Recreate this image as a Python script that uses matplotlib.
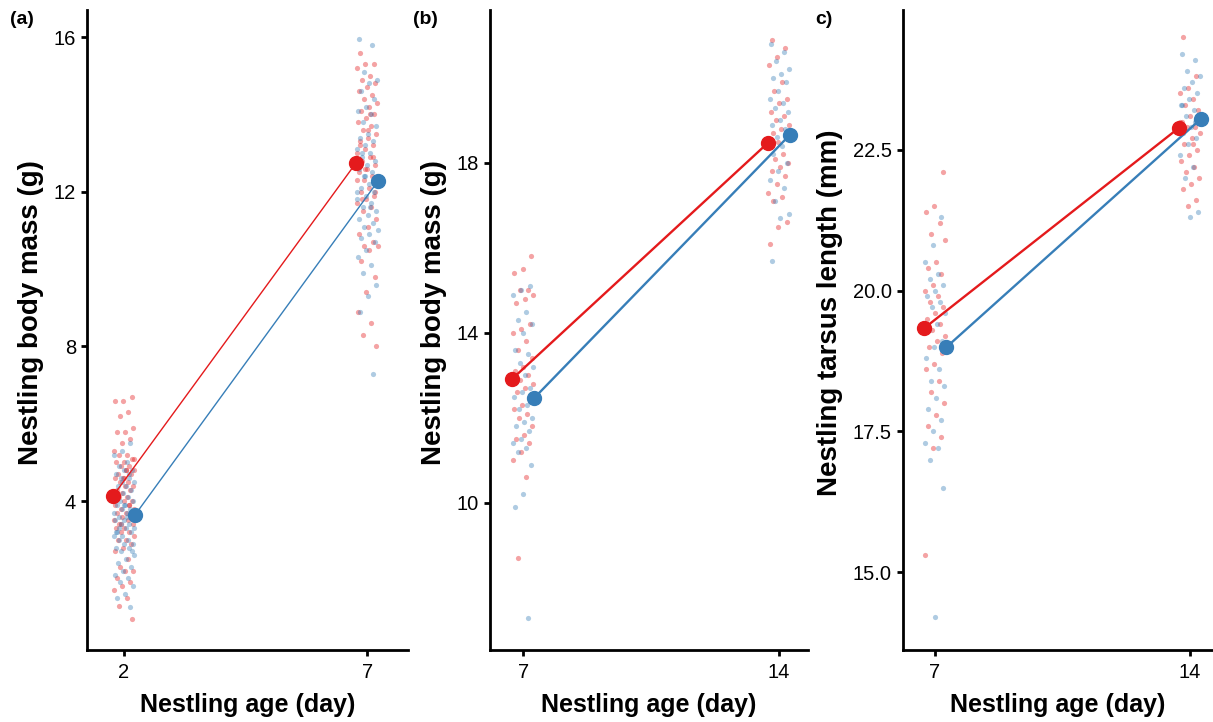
import numpy as np
import matplotlib
matplotlib.use("Agg")
import matplotlib.pyplot as plt

plt.rcParams['font.family'] = ['Liberation Sans', 'DejaVu Sans']

RED = '#E41A1C'
BLUE = '#377EB8'

# ---------------- data ----------------
# panel (a): body mass, ages 2 and 7
a_ages = [2, 7]
a_red_mean = [4.13, 12.75]
a_blue_mean = [3.64, 12.28]
a_red_d2 = [6.7, 6.6, 6.6, 6.3, 6.2, 5.9, 5.8, 5.8, 5.6, 5.5, 5.3, 5.2, 5.2, 5.1, 5.0, 5.0,
            4.9, 4.9, 4.8, 4.8, 4.7, 4.7, 4.6, 4.6, 4.5, 4.5, 4.4, 4.4, 4.3, 4.3, 4.2, 4.2,
            4.1, 4.1, 4.0, 4.0, 3.9, 3.9, 3.8, 3.8, 3.7, 3.7, 3.6, 3.6, 3.5, 3.5, 3.4, 3.4,
            3.3, 3.3, 3.2, 3.2, 3.1, 3.0, 3.0, 2.9, 2.8, 2.7, 2.5, 2.3, 2.2, 2.2, 2.0, 1.9,
            1.8, 1.7, 1.5, 1.3, 0.95, 4.6, 4.2, 3.9, 3.4, 5.1, 4.8]
a_blue_d2 = [5.5, 5.3, 5.2, 5.0, 4.9, 4.8, 4.8, 4.7, 4.6, 4.6, 4.5, 4.4, 4.4, 4.3, 4.2, 4.2,
             4.1, 4.0, 4.0, 3.9, 3.9, 3.8, 3.8, 3.7, 3.7, 3.6, 3.6, 3.5, 3.5, 3.4, 3.4, 3.3,
             3.3, 3.2, 3.2, 3.1, 3.1, 3.0, 3.0, 2.9, 2.9, 2.8, 2.8, 2.7, 2.6, 2.5, 2.4, 2.3,
             2.2, 2.1, 2.0, 1.9, 1.8, 1.6, 1.5, 1.26, 4.5, 4.1, 3.6, 3.3, 2.7, 3.9, 3.2, 4.7]
a_red_d7 = [15.6, 15.3, 15.3, 15.2, 15.0, 14.9, 14.8, 14.7, 14.6, 14.5, 14.4, 14.3, 14.2,
            14.1, 14.0, 13.9, 13.8, 13.7, 13.6, 13.5, 13.4, 13.3, 13.2, 13.1, 13.0, 12.9,
            12.8, 12.7, 12.6, 12.5, 12.4, 12.3, 12.2, 12.1, 12.0, 11.9, 11.8, 11.7, 11.6,
            11.5, 11.3, 11.1, 10.9, 10.7, 10.6, 10.6, 10.5, 10.2, 9.8, 9.4, 8.9, 8.6, 8.3,
            8.0, 13.6, 13.2, 12.9, 12.6, 12.3, 14.0, 11.8, 12.0]
a_blue_d7 = [15.95, 15.8, 15.1, 14.9, 14.8, 14.6, 14.4, 14.2, 14.1, 14.0, 13.8, 13.7, 13.5,
             13.4, 13.3, 13.2, 13.1, 13.0, 12.9, 12.8, 12.7, 12.6, 12.5, 12.4, 12.3, 12.2,
             12.1, 12.0, 11.9, 11.8, 11.7, 11.6, 11.5, 11.4, 11.3, 11.2, 11.1, 11.0, 10.9,
             10.8, 10.7, 10.5, 10.3, 10.1, 9.9, 9.6, 9.3, 8.9, 7.3, 12.4, 12.0, 11.6, 13.0]

# panel (b): body mass, ages 7 and 14
b_ages = [7, 14]
b_red_mean = [12.92, 18.47]
b_blue_mean = [12.47, 18.66]
b_red_d7 = [15.8, 15.5, 15.4, 15.0, 15.0, 14.9, 14.8, 14.7, 14.2, 14.1, 14.0, 13.8, 13.6,
            13.4, 13.2, 13.1, 13.0, 12.9, 12.8, 12.7, 12.6, 12.4, 12.3, 12.2, 12.1, 12.0,
            11.8, 11.6, 11.5, 11.4, 11.2, 11.0, 10.6, 8.7]
b_blue_d7 = [15.1, 15.0, 14.9, 14.5, 14.3, 14.2, 14.0, 13.6, 13.5, 13.3, 13.2, 13.0, 12.9,
             12.7, 12.6, 12.5, 12.3, 12.2, 12.0, 11.9, 11.8, 11.7, 11.5, 11.4, 11.3, 11.2,
             10.9, 10.2, 9.9, 7.3]
b_red_d14 = [20.9, 20.7, 20.5, 20.3, 19.9, 19.7, 19.5, 19.4, 19.2, 19.1, 19.0, 18.9, 18.8,
             18.7, 18.6, 18.5, 18.4, 18.2, 18.1, 18.0, 17.9, 17.8, 17.7, 17.5, 17.3, 17.2,
             17.1, 16.6, 16.5, 16.1]
b_blue_d14 = [20.8, 20.6, 20.4, 20.2, 20.1, 20.0, 19.9, 19.7, 19.5, 19.4, 19.3, 19.2, 19.0,
              18.9, 18.8, 18.6, 18.5, 18.4, 18.2, 18.0, 17.8, 17.6, 17.4, 17.1, 16.8, 16.7,
              15.7]

# panel (c): tarsus length, ages 7 and 14
c_ages = [7, 14]
c_red_mean = [19.33, 22.89]
c_blue_mean = [18.99, 23.05]
c_red_d7 = [22.1, 21.5, 21.4, 21.2, 21.0, 20.9, 20.5, 20.4, 20.3, 20.1, 20.0, 19.9, 19.8,
            19.7, 19.6, 19.5, 19.4, 19.3, 19.2, 19.1, 19.0, 18.9, 18.7, 18.6, 18.4, 18.2,
            18.0, 17.8, 17.6, 17.4, 17.2, 15.3]
c_blue_d7 = [21.3, 20.8, 20.5, 20.3, 20.2, 20.1, 20.0, 19.9, 19.8, 19.7, 19.6, 19.4, 19.3,
             19.1, 19.0, 18.8, 18.6, 18.4, 18.3, 18.1, 17.9, 17.7, 17.5, 17.3, 17.2, 17.0,
             16.5, 14.2]
c_red_d14 = [24.5, 23.8, 23.6, 23.5, 23.4, 23.3, 23.2, 23.1, 23.0, 22.9, 22.9, 22.8, 22.7,
             22.6, 22.5, 22.4, 22.3, 22.2, 22.1, 22.0, 21.9, 21.8, 21.6, 21.5, 23.0, 22.6]
c_blue_d14 = [24.2, 24.1, 23.9, 23.8, 23.7, 23.6, 23.5, 23.4, 23.3, 23.2, 23.1, 23.0, 22.9,
              22.8, 22.7, 22.6, 22.4, 22.2, 22.0, 21.4, 21.3, 23.3, 23.0]

panels = [
    dict(label='(a)', ages=a_ages, ylab='Nestling body mass (g)',
         red=[a_red_d2, a_red_d7], blue=[a_blue_d2, a_blue_d7],
         rmean=a_red_mean, bmean=a_blue_mean,
         yticks=[4, 8, 12, 16], yticklabels=['4', '8', '12', '16'],
         ylim=(0.15, 16.7), xlim=(1.24, 7.84), lw=1.0,
         pos=[87, 408], labx=10),
    dict(label='(b)', ages=b_ages, ylab='Nestling body mass (g)',
         red=[b_red_d7, b_red_d14], blue=[b_blue_d7, b_blue_d14],
         rmean=b_red_mean, bmean=b_blue_mean,
         yticks=[10, 14, 18], yticklabels=['10', '14', '18'],
         ylim=(6.54, 21.6), xlim=(6.09, 14.8), lw=1.7,
         pos=[490, 808], labx=413),
    dict(label='c)', ages=c_ages, ylab='Nestling tarsus length (mm)',
         red=[c_red_d7, c_red_d14], blue=[c_blue_d7, c_blue_d14],
         rmean=c_red_mean, bmean=c_blue_mean,
         yticks=[15.0, 17.5, 20.0, 22.5], yticklabels=['15.0', '17.5', '20.0', '22.5'],
         ylim=(13.62, 24.98), xlim=(6.12, 14.63), lw=1.7,
         pos=[903, 1213], labx=815),
]

W, H = 1213, 722
fig = plt.figure(figsize=(W / 100, H / 100), dpi=100)

golden = 0.6180339887


def jitter(n, seed_off):
    idx = np.arange(n) + seed_off
    return ((idx * golden) % 1.0 - 0.5) * 0.44


for p in panels:
    l, r = p['pos']
    ax = fig.add_axes([l / W, (H - 650) / H, (r - l) / W, 640 / H])
    days_per_px = (p['xlim'][1] - p['xlim'][0]) / (r - l)
    for k, age in enumerate(p['ages']):
        for vals, col, off in [(p['red'][k], RED, 3), (p['blue'][k], BLUE, 11)]:
            v = np.array(vals)
            jx = jitter(len(v), off + 7 * k) * (48.6 * days_per_px)
            ax.scatter(age + jx, v, s=14, color=col, alpha=0.4, linewidths=0, zorder=2)
    dodge = 11 * days_per_px
    rx = [a - dodge for a in p['ages']]
    bx = [a + dodge for a in p['ages']]
    ax.plot(rx, p['rmean'], color=RED, lw=p['lw'], zorder=3)
    ax.plot(bx, p['bmean'], color=BLUE, lw=p['lw'], zorder=3)
    ax.plot(rx, p['rmean'], 'o', color=RED, ms=10, zorder=4, mec=RED)
    ax.plot(bx, p['bmean'], 'o', color=BLUE, ms=10, zorder=4, mec=BLUE)

    ax.set_xlim(*p['xlim'])
    ax.set_ylim(*p['ylim'])
    ax.set_xticks(p['ages'])
    ax.set_xticklabels([str(a) for a in p['ages']])
    ax.set_yticks(p['yticks'])
    ax.set_yticklabels(p['yticklabels'])
    for s in ['top', 'right']:
        ax.spines[s].set_visible(False)
    for s in ['left', 'bottom']:
        ax.spines[s].set_linewidth(2.0)
    ax.tick_params(axis='both', width=2.0, length=4, labelsize=14.5, pad=4)
    ax.tick_params(axis='x', pad=5)
    ax.set_xlabel('Nestling age (day)', fontsize=18, fontweight='bold', labelpad=8)
    ax.set_ylabel(p['ylab'], fontsize=20, fontweight='bold', labelpad=7)
    ax.yaxis.label.set_y(0.527)
    fig.text(p['labx'] / W, 1 - 19 / H, p['label'], fontsize=14, fontweight='bold',
             ha='left', va='center')

fig.savefig('out.png', dpi=100)
